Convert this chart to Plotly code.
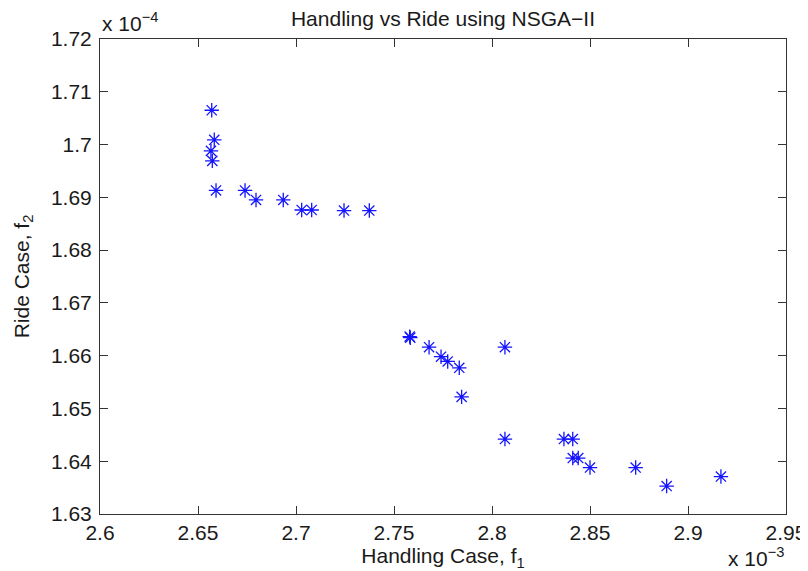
import plotly.graph_objects as go

# Handling case f1 (in units of 1e-3), Ride case f2 (in units of 1e-4)
handling_f1 = [2.6570, 2.6583, 2.6566, 2.6573, 2.6592, 2.6740, 2.6796, 2.6935,
               2.7029, 2.7080, 2.7245, 2.7374,
               2.7580, 2.7583, 2.7679, 2.7740, 2.7774, 2.7833, 2.7845, 2.8066, 2.8066,
               2.8367, 2.8412, 2.8412, 2.8440, 2.8500, 2.8733, 2.8891, 2.9168]
ride_f2 = [1.7065, 1.7009, 1.6988, 1.6969, 1.6913, 1.6913, 1.6895, 1.6895,
           1.6876, 1.6876, 1.6875, 1.6875,
           1.6636, 1.6634, 1.6616, 1.6598, 1.6589, 1.6577, 1.6522, 1.6616, 1.6442,
           1.6442, 1.6442, 1.6406, 1.6406, 1.6388, 1.6388, 1.6353, 1.6371]

x_tickvals = [2.6, 2.65, 2.7, 2.75, 2.8, 2.85, 2.9, 2.95]
x_ticktext = ["2.6", "2.65", "2.7", "2.75", "2.8", "2.85", "2.9", "2.95"]
y_tickvals = [1.63, 1.64, 1.65, 1.66, 1.67, 1.68, 1.69, 1.70, 1.71, 1.72]
y_ticktext = ["1.63", "1.64", "1.65", "1.66", "1.67", "1.68", "1.69", "1.7", "1.71", "1.72"]

FONT = "Liberation Sans, Arial, Helvetica, sans-serif"
TXT = "#1a1a1a"
AX = "#333333"
FS = 21

# page body has an 8px margin; figure is sized/offset to compensate
W, H = 800, 563

fig = go.Figure()
fig.add_trace(go.Scatter(
    x=handling_f1, y=ride_f2, mode="markers",
    marker=dict(symbol="asterisk-open", size=12, color="#1414ff",
                line=dict(color="#1414ff", width=1.3)),
    showlegend=False, hoverinfo="x+y"))

axis_common = dict(showgrid=False, zeroline=False, showline=True, linecolor=AX,
                   linewidth=1, mirror="ticks", ticks="inside", ticklen=8,
                   tickcolor=AX, tickwidth=1, automargin=False,
                   tickfont=dict(family=FONT, size=FS, color=TXT))

fig.update_xaxes(range=[2.6, 2.95], tickvals=x_tickvals, ticktext=x_ticktext,
                 title=dict(text="Handling Case, f<sub>1</sub>",
                            font=dict(family=FONT, size=FS, color=TXT), standoff=0),
                 **axis_common)
fig.update_yaxes(range=[1.63, 1.72], tickvals=y_tickvals, ticktext=y_ticktext,
                 ticklabelstandoff=3,
                 title=dict(text="Ride Case, f<sub>2</sub>",
                            font=dict(family=FONT, size=FS, color=TXT), standoff=15),
                 **axis_common)

fig.update_layout(
    width=W, height=H,
    margin=dict(l=92, r=22, t=31, b=57),
    paper_bgcolor="white", plot_bgcolor="white",
    title=dict(text="Handling vs Ride using NSGA\u2212II", x=0.5, xref="paper",
               y=1 - 11 / H, yref="container", yanchor="middle",
               font=dict(family=FONT, size=FS, color=TXT)),
    annotations=[
        dict(text="x 10<sup>\u22124</sup>", xref="paper", yref="paper", x=0, y=1,
             xanchor="left", yanchor="bottom", showarrow=False, yshift=2,
             font=dict(family=FONT, size=FS, color=TXT)),
        dict(text="x 10<sup>\u22123</sup>", xref="paper", yref="paper", x=1, y=0,
             xanchor="right", yanchor="top", showarrow=False, yshift=-28,
             font=dict(family=FONT, size=FS, color=TXT)),
    ],
)

fig.write_html("out.html")
